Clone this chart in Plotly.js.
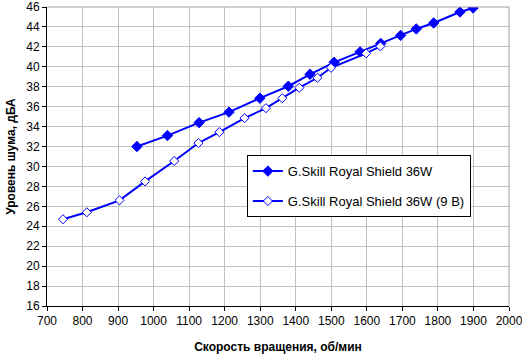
<!DOCTYPE html>
<html>
<head>
<meta charset="utf-8">
<script src="https://cdn.plot.ly/plotly-3.0.1.min.js"></script>
<style>html,body{margin:0;padding:0;background:#fff;}#chart{width:522px;height:356px;}</style>
</head>
<body>
<div id="chart"></div>
<script>
const rpmA = [953, 1039, 1128, 1212, 1299, 1379, 1440, 1508, 1581, 1639, 1695, 1739, 1788, 1862, 1899];
const noiseA = [32.0, 33.1, 34.4, 35.45, 36.85, 38.05, 39.25, 40.45, 41.5, 42.35, 43.15, 43.8, 44.4, 45.5, 45.9];
const rpmB = [745, 812, 904, 976, 1058, 1126, 1185, 1256, 1316, 1362, 1410, 1461, 1499, 1598, 1638];
const noiseB = [24.7, 25.4, 26.6, 28.5, 30.55, 32.35, 33.45, 34.85, 35.85, 36.85, 37.9, 38.9, 39.9, 41.35, 42.05];
const seriesNames = ["G.Skill Royal Shield 36W", "G.Skill Royal Shield 36W (9 B)"];
const xTitle = "Скорость вращения, об/мин";
const yTitle = "Уровень шума, дБА";

const font = "Arial, 'Liberation Sans', sans-serif";
const traces = [
  {x: rpmA, y: noiseA, name: seriesNames[0], type: "scatter", mode: "lines+markers", legendgroup: "a",
   line: {color: "#0000ff", width: 2}, marker: {symbol: "diamond", size: 8, color: "#0000ff", line: {color: "#0000ff", width: 1}}},
  {x: rpmB, y: noiseB, name: seriesNames[1], type: "scatter", mode: "lines+markers", legendgroup: "b",
   line: {color: "#0000ff", width: 2}, marker: {symbol: "diamond", size: 7, color: "#ffffff", line: {color: "#0000ff", width: 1}}}
];
const layout = {
  width: 522, height: 356,
  margin: {l: 47, r: 13, t: 7, b: 50},
  paper_bgcolor: "#ffffff", plot_bgcolor: "#ffffff",
  font: {family: font, size: 12, color: "#000"},
  showlegend: true,
  legend: {x: 0.4326, y: 0.5045, xanchor: "left", yanchor: "top", bgcolor: "#ffffff", bordercolor: "#000", borderwidth: 1,
           traceorder: "grouped", tracegroupgap: 10, font: {family: font, size: 13}},
  xaxis: {range: [700, 2000], dtick: 100, tick0: 700, showgrid: true, gridcolor: "#c0c0c0", gridwidth: 1,
          showline: true, linecolor: "#000", linewidth: 1, ticks: "outside", ticklen: 4, tickcolor: "#000",
          zeroline: false, tickfont: {size: 12}, ticklabeloverflow: "allow",
          title: {text: xTitle, font: {size: 12, weight: "bold"}, standoff: 15}},
  yaxis: {range: [16, 46], dtick: 2, tick0: 16, showgrid: true, gridcolor: "#c0c0c0", gridwidth: 1,
          showline: true, linecolor: "#000", linewidth: 1, ticks: "outside", ticklen: 4, tickcolor: "#000",
          zeroline: false, tickfont: {size: 12}, ticklabeloverflow: "allow",
          title: {text: yTitle, font: {size: 12, weight: "bold"}, standoff: 8}},
  shapes: [
    {type: "line", xref: "paper", yref: "paper", x0: 0, x1: 1, y0: 1, y1: 1, line: {color: "#a0a0a0", width: 1}},
    {type: "line", xref: "paper", yref: "paper", x0: 1, x1: 1, y0: 0, y1: 1, line: {color: "#a0a0a0", width: 1}}
  ]
};
Plotly.newPlot("chart", traces, layout, {displayModeBar: false, staticPlot: true});
</script>
</body>
</html>
